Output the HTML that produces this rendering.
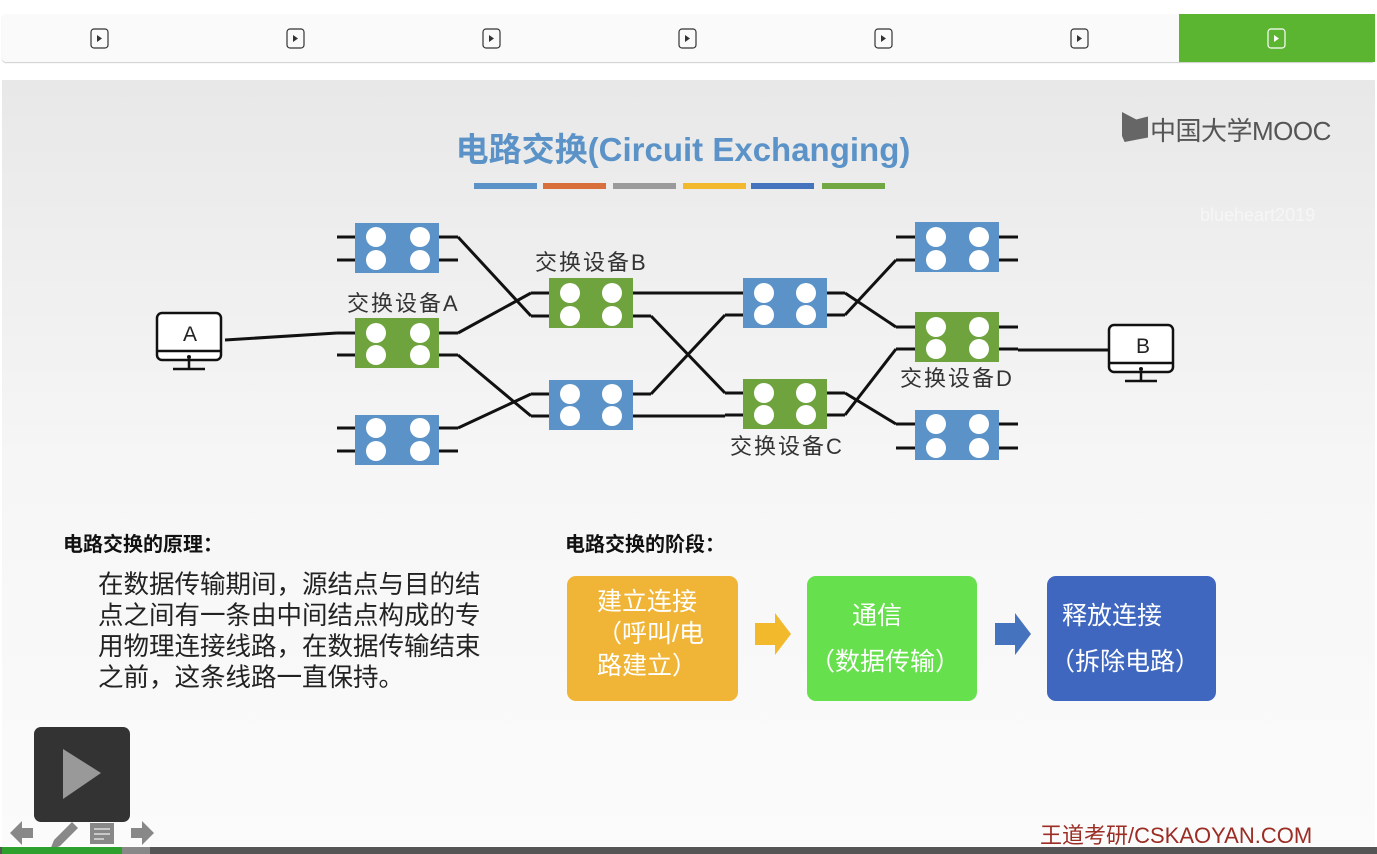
<!DOCTYPE html>
<html><head><meta charset="utf-8"><style>
body{margin:0;width:1377px;height:854px;overflow:hidden;background:#fff;position:relative;font-family:"Liberation Sans","Noto Sans CJK SC",sans-serif}
.abs{position:absolute}
</style></head><body>
<div class="abs" style="left:2px;top:14px;width:1373px;height:48px;background:#fafafa;border-radius:4px;box-shadow:0 1px 1px #ccc"></div>
<div class="abs" style="left:1179px;top:14px;width:196px;height:48px;background:#5cb531"></div>
<svg class="abs" style="left:0;top:0" width="1377" height="80">
<g fill="none" stroke="#333" stroke-width="1.2">
<rect x="91" y="29" width="17" height="19" rx="3"/><rect x="287" y="29" width="17" height="19" rx="3"/><rect x="483" y="29" width="17" height="19" rx="3"/><rect x="679" y="29" width="17" height="19" rx="3"/><rect x="875" y="29" width="17" height="19" rx="3"/><rect x="1071" y="29" width="17" height="19" rx="3"/><rect x="1268" y="29" width="17" height="19" rx="3" stroke="#fff"/></g>
<g fill="#333"><path d="M97 35l5 3.5-5 3.5z"/><path d="M293 35l5 3.5-5 3.5z"/><path d="M489 35l5 3.5-5 3.5z"/><path d="M685 35l5 3.5-5 3.5z"/><path d="M881 35l5 3.5-5 3.5z"/><path d="M1077 35l5 3.5-5 3.5z"/><path d="M1274 35l5 3.5-5 3.5z" fill="#fff"/></g>
</svg>
<div class="abs" style="left:2px;top:80px;width:1373px;height:766px;background:linear-gradient(#e8e8e8,#f6f6f6 50%,#fbfbfb)"></div>
<div class="abs" style="left:0;top:123px;width:1366px;text-align:center;font-size:33px;font-weight:bold;color:#5b93c8">电路交换(Circuit Exchanging)</div>
<div class="abs" style="left:474px;top:183px;width:63px;height:6px;background:#5b93c8"></div>
<div class="abs" style="left:543px;top:183px;width:63px;height:6px;background:#d9703b"></div>
<div class="abs" style="left:613px;top:183px;width:63px;height:6px;background:#9a9a9a"></div>
<div class="abs" style="left:683px;top:183px;width:63px;height:6px;background:#f2b92c"></div>
<div class="abs" style="left:751px;top:183px;width:63px;height:6px;background:#4573bd"></div>
<div class="abs" style="left:822px;top:183px;width:63px;height:6px;background:#72a844"></div>
<div class="abs" style="left:1122px;top:112px;width:26px;height:30px;background:#666;clip-path:polygon(0 0,55% 25%,100% 15%,100% 85%,10% 100%,0 80%)"></div>
<div class="abs" style="left:1150px;top:111px;font-size:26px;color:#555;letter-spacing:-0.5px">中国大学MOOC</div>
<div class="abs" style="left:1200px;top:205px;font-size:18px;color:#f6f6f6">blueheart2019</div>
<svg class="abs" style="left:0;top:0" width="1377" height="854">
<g stroke="#111" stroke-width="3" fill="none">
<path d="M337 237H458M337 260H458M337 333H458M337 355H458M337 428H458M337 451H458"/>
<path d="M531 293H651M531 316H651M531 394H651M531 416H651"/>
<path d="M725 293H845M725 315H845M725 393H845M725 415H845"/>
<path d="M896 237H1018M896 260H1018M896 327H1018M896 349H1018M896 424H1018M896 448H1018"/>
<path d="M458 237L531 316M458 333L531 293M458 355L531 416M458 428L531 394"/>
<path d="M651 293H725M651 316L725 393M651 394L725 315M651 416H725"/>
<path d="M845 293L896 327M845 315L896 260M845 393L896 424M845 415L896 349"/>
<path d="M1018 350H1108M225 340L337 333"/>
</g>
<g fill="#5b93c8"><rect x="355" y="223" width="84" height="50"/><rect x="355" y="415" width="84" height="50"/><rect x="549" y="380" width="84" height="50"/><rect x="743" y="278" width="84" height="50"/><rect x="915" y="222" width="84" height="50"/><rect x="915" y="410" width="84" height="50"/></g>
<g fill="#6fa33e"><rect x="355" y="318" width="84" height="50"/><rect x="549" y="278" width="84" height="50"/><rect x="743" y="379" width="84" height="50"/><rect x="915" y="312" width="84" height="50"/></g>
<g fill="#fff">
<circle cx="376" cy="237" r="10"/><circle cx="420" cy="237" r="10"/><circle cx="376" cy="260" r="10"/><circle cx="420" cy="260" r="10"/>
<circle cx="376" cy="333" r="10"/><circle cx="420" cy="333" r="10"/><circle cx="376" cy="355" r="10"/><circle cx="420" cy="355" r="10"/>
<circle cx="376" cy="428" r="10"/><circle cx="420" cy="428" r="10"/><circle cx="376" cy="451" r="10"/><circle cx="420" cy="451" r="10"/>
<circle cx="570" cy="293" r="10"/><circle cx="612" cy="293" r="10"/><circle cx="570" cy="316" r="10"/><circle cx="612" cy="316" r="10"/>
<circle cx="570" cy="394" r="10"/><circle cx="612" cy="394" r="10"/><circle cx="570" cy="416" r="10"/><circle cx="612" cy="416" r="10"/>
<circle cx="764" cy="293" r="10"/><circle cx="806" cy="293" r="10"/><circle cx="764" cy="315" r="10"/><circle cx="806" cy="315" r="10"/>
<circle cx="764" cy="393" r="10"/><circle cx="806" cy="393" r="10"/><circle cx="764" cy="415" r="10"/><circle cx="806" cy="415" r="10"/>
<circle cx="936" cy="237" r="10"/><circle cx="979" cy="237" r="10"/><circle cx="936" cy="260" r="10"/><circle cx="979" cy="260" r="10"/>
<circle cx="936" cy="327" r="10"/><circle cx="979" cy="327" r="10"/><circle cx="936" cy="349" r="10"/><circle cx="979" cy="349" r="10"/>
<circle cx="936" cy="424" r="10"/><circle cx="979" cy="424" r="10"/><circle cx="936" cy="448" r="10"/><circle cx="979" cy="448" r="10"/>
</g>
<g stroke="#111" stroke-width="2.5" fill="#fff">
<rect x="157" y="313" width="64" height="47" rx="5"/><rect x="1109" y="325" width="64" height="47" rx="5"/></g>
<g stroke="#111" stroke-width="2.5"><path d="M157 351H221M189 360V369M173 369H205M1109 363H1173M1141 372V381M1125 381H1157"/></g>
<circle cx="189" cy="357" r="2" fill="#111"/><circle cx="1141" cy="369" r="2" fill="#111"/>
<g font-size="21" fill="#222" text-anchor="middle"><text x="190" y="341">A</text><text x="1143" y="353">B</text></g>
<g font-size="22" fill="#333" letter-spacing="2">
<text x="347" y="311">交换设备A</text><text x="535" y="270">交换设备B</text><text x="730" y="454">交换设备C</text><text x="900" y="386">交换设备D</text></g>
<path d="M755 623h20v-10l16 21-16 21v-10h-20z" fill="#f2b92c"/>
<path d="M995 623h20v-10l16 21-16 21v-10h-20z" fill="#4573bd"/>
</svg>
<div class="abs" style="left:63px;top:528px;font-size:20px;font-weight:bold;color:#111">电路交换的原理：</div>
<div class="abs" style="left:98px;top:570px;width:392px;font-size:25.5px;line-height:31px;color:#222">在数据传输期间，源结点与目的结点之间有一条由中间结点构成的专用物理连接线路，在数据传输结束之前，这条线路一直保持。</div>
<div class="abs" style="left:565px;top:528px;font-size:20px;font-weight:bold;color:#111">电路交换的阶段：</div>
<div class="abs" style="left:567px;top:576px;width:171px;height:125px;border-radius:9px;background:#f0b536"></div>
<div class="abs" style="left:597px;top:586px;width:120px;font-size:25px;line-height:32px;color:#fff">建立连接（呼叫/电路建立）</div>
<div class="abs" style="left:807px;top:576px;width:170px;height:125px;border-radius:9px;background:#66e04c"></div>
<div class="abs" style="left:852px;top:596px;font-size:25px;color:#fff">通信</div>
<div class="abs" style="left:810px;top:642px;font-size:25px;color:#fff">（数据传输）</div>
<div class="abs" style="left:1047px;top:576px;width:169px;height:125px;border-radius:9px;background:#3f67bf"></div>
<div class="abs" style="left:1062px;top:596px;font-size:25px;color:#fff">释放连接</div>
<div class="abs" style="left:1050px;top:642px;font-size:25px;color:#fff">（拆除电路）</div>
<div class="abs" style="left:1040px;top:818px;font-size:22px;color:#9b2d24">王道考研/CSKAOYAN.COM</div>
<div class="abs" style="left:34px;top:727px;width:96px;height:95px;border-radius:7px;background:#333"></div>
<svg class="abs" style="left:0;top:700px" width="160" height="154">
<path d="M63 49L101 73L63 99z" fill="#999"/>
<path d="M10 133l12-12v7h11v10h-11v7z" fill="#888"/>
<path d="M50 150l4-10 18-18 6 6-18 18z" fill="#888"/>
<rect x="90" y="123" width="24" height="21" fill="#888"/><path d="M94 129h16M94 134h16M94 139h10" stroke="#ddd" stroke-width="1.5"/>
<path d="M154 133l-12-12v7h-11v10h11v7z" fill="#888"/>
</svg>
<div class="abs" style="left:0;top:847px;width:1377px;height:7px;background:#555"></div>
<div class="abs" style="left:2px;top:847px;width:120px;height:7px;background:#2ea02e"></div>
<div class="abs" style="left:122px;top:847px;width:28px;height:7px;background:#888"></div>
</body></html>
